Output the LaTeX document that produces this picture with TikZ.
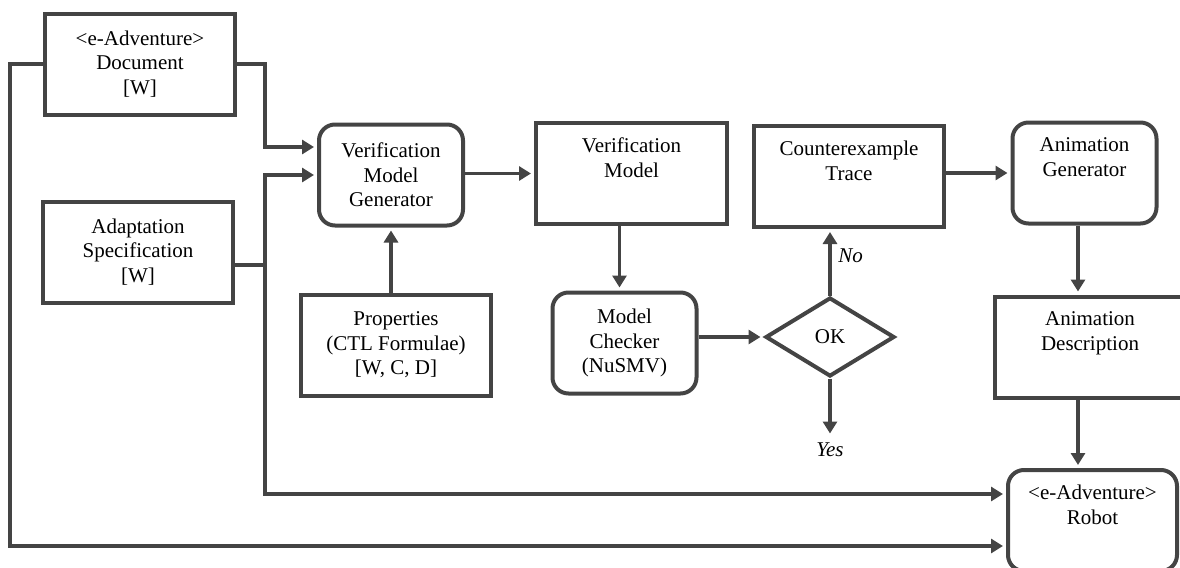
\documentclass[tikz,border=0pt]{standalone}
\usepackage{fontspec}
\setmainfont{Liberation Serif}
\usetikzlibrary{arrows.meta}
\usetikzlibrary{shapes.geometric}
\definecolor{linegray}{HTML}{444444}

\tikzset{
  box/.style={draw=linegray, line width=2pt, inner sep=0pt, minimum width=#1,
    minimum height=50.5pt, align=center, font=\fontsize{10.5}{12.25}\selectfont},
  rbox/.style={box=#1, rounded corners=8pt},
  arr/.style={draw=linegray, line width=1.8pt, shorten >=1.5pt,
    -{Triangle[length=6pt,width=7pt]}},
  wire/.style={draw=linegray, line width=1.8pt}
}

\begin{document}
\begin{tikzpicture}[x=0.5pt,y=-0.5pt]

\useasboundingbox (0,0) rectangle (1180,568);
\clip (0,0) rectangle (1180,568);

\node[box=95pt] (doc) at (140,64) {<e-Adventure>\\Document\\{[W]}};
\node[box=95pt] (adapt) at (138,252) {Adaptation\\Specification\\{[W]}};
\node[rbox=72pt] (vmg) at (391,175) {Verification\\Model\\Generator};
\node[box=95pt] (props) at (396,345) {Properties\\(CTL Formulae)\\{[W, C, D]}};
\node[box=95.5pt] (vm) at (631.5,173.5) {Verification\\Model\\\strut};
\node[rbox=72pt] (mc) at (624.5,343) {Model\\Checker\\(NuSMV)};
\node[draw=linegray, line width=2pt, diamond, inner sep=0pt, aspect=1.63,
  minimum width=64.5pt, minimum height=39.5pt,
  font=\fontsize{10.5}{12.25}\selectfont] (ok) at (830,337) {OK};
\node[box=95pt] (ct) at (849,176.5) {Counterexample\\Trace\\\strut};
\node[rbox=72pt] (ag) at (1084.5,173) {Animation\\Generator\\\strut};
\node[box=95pt] (ad) at (1090,347) {Animation\\Description\\\strut};
\node[rbox=84.5pt] (robot) at (1092.5,520.5) {<e-Adventure>\\Robot\\\strut};

\draw[arr] (doc.west) -- ++(-33,0) |- ([yshift=-12.75pt]robot.west);
\draw[arr] (doc.east) -- ++(28,0) |- ([yshift=14pt]vmg.west);
\draw[wire] ([yshift=-6.5pt]adapt.east) -- ++(30,0);
\draw[arr] ([yshift=-6.5pt]adapt.east) ++(30,0) |- ([yshift=0pt]vmg.west);
\draw[arr] ([yshift=-6.5pt]adapt.east) ++(30,0) |- ([yshift=13.25pt]robot.west);
\draw[arr] (vmg.south |- props.north) -- (vmg.south);
\draw[arr] (vmg.east |- vm.west) -- (vm.west);
\draw[arr] ([xshift=-6pt]vm.south) -- ([xshift=-6pt]vm.south |- mc.north);
\draw[arr] (mc.east |- ok.west) -- (ok.west);
\draw[arr] (ok.north) -- (ok.north |- ct.south)
  node[right, pos=0.6, font=\fontsize{10.5}{12.25}\selectfont] (no) {\textit{No}};
\draw[arr] (ok.south) -- ++(0,58)
  node[below, inner sep=2pt, font=\fontsize{10.5}{12.25}\selectfont] (yes) {\textit{Yes}};
\draw[arr] (ct.east |- ag.west) -- (ag.west);
\draw[arr] ([xshift=-3.25pt]ag.south) -- ([xshift=-3.25pt]ag.south |- ad.north);
\draw[arr] ([xshift=-3.25pt]ag.south |- ad.south) -- ([xshift=-3.25pt]ag.south |- robot.north);

\end{tikzpicture}
\end{document}
